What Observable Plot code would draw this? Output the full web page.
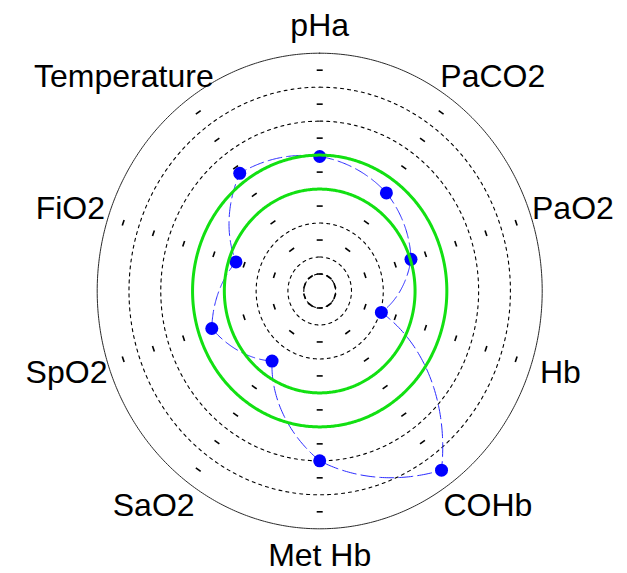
<!DOCTYPE html>
<html><head><meta charset="utf-8">
<script src="https://cdn.jsdelivr.net/npm/d3@7"></script>
<script src="https://cdn.jsdelivr.net/npm/@observablehq/plot@0.6"></script>
<style>body{margin:0;background:#fff}</style>
</head><body><div id="chart"></div>
<script>
// ---- data ----
const parameters = ["pHa", "PaCO2", "PaO2", "Hb", "COHb", "Met Hb", "SaO2", "SpO2", "FiO2", "Temperature"];
const values = [3.96, 3.57, 3.02, 2.04, 6.52, 5.0, 2.55, 3.57, 2.77, 4.28];
const dottedRings = [0.5, 1, 2, 5, 6];
const normalRings = [3, 4];
const outerRing = 7;
const spokeTicks = [0.5, 1.5, 2.5, 3.5, 4.5, 5.5, 6.5];

// ---- layout ----
const W = 627, H = 573, CX = 319.2, CY = 290.5, RX = 222.5, RY = 237.8;
const SX = RX / outerRing, SY = RY / outerRing;
const xDomain = [-CX / SX, (W - CX) / SX];
const yDomain = [-(H - CY) / SY, CY / SY];
const FONT_SIZE = 32;
const FONT_FAMILY = "'Liberation Sans', Arial, Helvetica, sans-serif";

const stepDeg = 360 / parameters.length;
const ang = i => i * stepDeg * Math.PI / 180;

// curve that interpolates linearly in polar coordinates around the chart centre
function polarCurve(context) {
  let pts;
  const toP = ([x, y]) => { const u = (x - CX) / SX, v = (CY - y) / SY; return [Math.hypot(u, v), Math.atan2(u, v)]; };
  return {
    areaStart() {}, areaEnd() {},
    lineStart() { pts = []; },
    point(x, y) { pts.push([+x, +y]); },
    lineEnd() {
      const n = pts.length; if (!n) return;
      context.moveTo(pts[0][0], pts[0][1]);
      for (let i = 0; i < n; i++) {
        const [r0, a0] = toP(pts[i]);
        const [r1, a1] = toP(pts[(i + 1) % n]);
        let da = a1 - a0;
        while (da > Math.PI) da -= 2 * Math.PI;
        while (da < -Math.PI) da += 2 * Math.PI;
        const k = 60;
        for (let j = 1; j <= k; j++) {
          const t = j / k, r = r0 + (r1 - r0) * t, a = a0 + da * t;
          context.lineTo(CX + r * Math.sin(a) * SX, CY - r * Math.cos(a) * SY);
        }
      }
      context.closePath();
    }
  };
}

const ringRows = radii => radii.flatMap(r => parameters.map((p, i) => ({ring: r, x: r * Math.sin(ang(i)), y: r * Math.cos(ang(i))})));

const points = parameters.map((p, i) => ({name: p, x: values[i] * Math.sin(ang(i)), y: values[i] * Math.cos(ang(i))}));

// spoke tick marks (short, perpendicular to each spoke)
const half = 3;
const ticks = parameters.flatMap((p, i) => spokeTicks.map(r => {
  const a = ang(i), x = r * Math.sin(a), y = r * Math.cos(a);
  const ux = half * Math.cos(a) / SX, uy = -half * Math.sin(a) / SY;
  return {x1: x - ux, y1: y - uy, x2: x + ux, y2: y + uy};
}));

// labels
const ctx = document.createElement("canvas").getContext("2d");
ctx.font = FONT_SIZE + "px " + FONT_FAMILY;
const labels = parameters.map((p, i) => {
  const a = ang(i), s = Math.sin(a);
  const w = ctx.measureText(p).width;
  const shift = Math.abs(s) < 1e-6 ? 0 : Math.sign(s) * 0.305 * w / SX;
  return {name: p, x: 7.55 * s + shift, y: 7.8 * Math.cos(a)};
});

const chart = Plot.plot({
  width: W, height: H,
  marginTop: 0, marginRight: 0, marginBottom: 0, marginLeft: 0,
  x: {domain: xDomain, axis: null},
  y: {domain: yDomain, axis: null},
  style: {background: "white", fontFamily: FONT_FAMILY},
  marks: [
    Plot.line(ringRows([outerRing]), {x: "x", y: "y", z: "ring", curve: polarCurve, stroke: "#2a2a2a", strokeWidth: 1}),
    Plot.line(ringRows(dottedRings), {x: "x", y: "y", z: "ring", curve: polarCurve, stroke: "black", strokeWidth: 1.1, strokeDasharray: "3,4"}),
    Plot.link(ticks, {x1: "x1", y1: "y1", x2: "x2", y2: "y2", stroke: "black", strokeWidth: 1.6}),
    Plot.line(points, {x: "x", y: "y", curve: polarCurve, stroke: "#2b2bff", strokeWidth: 1, strokeDasharray: "14,5"}),
    Plot.dot(points, {x: "x", y: "y", r: 6.5, fill: "#0000ff", stroke: "none"}),
    Plot.line(ringRows(normalRings), {x: "x", y: "y", z: "ring", curve: polarCurve, stroke: "#12e012", strokeWidth: 3}),
    Plot.text(labels, {x: "x", y: "y", text: "name", fontSize: FONT_SIZE, fill: "black", textAnchor: "middle", lineAnchor: "middle"})
  ]
});
document.getElementById("chart").appendChild(chart);
</script>
</body></html>
